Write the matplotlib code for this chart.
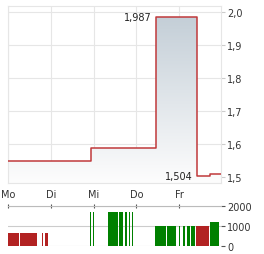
import matplotlib.pyplot as plt
import numpy as np
from matplotlib.colors import LinearSegmentedColormap
from matplotlib.ticker import FuncFormatter

days = ["Mo", "Di", "Mi", "Do", "Fr"]

# price steps, time in trading days from Monday
price_t = [0.0, 1.934, 3.455, 4.414, 4.725, 4.98]
price = [1.550, 1.589, 1.987, 1.504, 1.509, 1.509]

# volume bars: start / end time (days), volume, up (green) or down (red)
vol_start = [0.000, 0.281, 0.788, 0.865,
             1.911, 1.988,
             2.339, 2.596, 2.730, 2.830, 2.894,
             3.446, 3.726, 3.993, 4.101, 4.194, 4.288,
             4.391, 4.718]
vol_end = [0.257, 0.671, 0.819, 0.943,
           1.942, 2.012,
           2.566, 2.683, 2.791, 2.861, 2.924,
           3.696, 3.930, 4.016, 4.140, 4.257, 4.381,
           4.709, 4.936]
vol = [660, 660, 660, 660,
       1725, 1725,
       1725, 1725, 1725, 1725, 1725,
       1020, 1020, 1020, 1020, 1020, 1020,
       1020, 1230]
vol_up = [False, False, False, False,
          True, True,
          True, True, True, True, True,
          True, True, True, True, True, True,
          False, True]

txt = "#333333"
grid = "#e6e6e6"
xmax = price_t[-1]
ymin, ymax = 1.481, 2.019

fig = plt.figure(figsize=(2.64, 2.55), dpi=100)
ax = fig.add_axes([0.0303, 0.2773, 0.8068, 0.6953])
ax2 = fig.add_axes([0.0303, 0.0314, 0.8068, 0.1557])

# gradient area under the price line
fill = ax.fill_between(price_t, price, ymin, step="post", facecolor="none", linewidth=0)
cmap = LinearSegmentedColormap.from_list("g", ["#fdfdfd", "#c2cdd6"])
grad = np.linspace(0, 1, 256).reshape(-1, 1)
im = ax.imshow(grad, cmap=cmap, origin="lower", aspect="auto",
               extent=[0, xmax, ymin, 2.0], zorder=1)
im.set_clip_path(fill.get_paths()[0], ax.transData)

ax.plot(price_t, price, drawstyle="steps-post", color="#c0393b", lw=1.1, zorder=3)

ax.set_xlim(0, xmax)
ax.set_ylim(ymin, ymax)
ax.set_xticks(range(len(days)))
ax.set_xticklabels(days)
ax.set_yticks([1.5, 1.6, 1.7, 1.8, 1.9, 2.0])
ax.yaxis.set_major_formatter(FuncFormatter(lambda v, p: f"{v:.1f}".replace(".", ",")))
ax.yaxis.tick_right()
ax.tick_params(axis="x", length=0, labelsize=7, labelcolor=txt, pad=4)
ax.tick_params(axis="y", length=3, color="#cccccc", labelsize=7, labelcolor=txt, pad=1.5)
ax.grid(True, color=grid, lw=0.8)
ax.set_axisbelow(True)
for s in ax.spines.values():
    s.set_color(grid)
    s.set_linewidth(0.8)

# max / min labels
i_max = int(np.argmax(price))
i_min = int(np.argmin(price))
for i in (i_max, i_min):
    ax.annotate(f"{price[i]:.3f}".replace(".", ","), xy=(price_t[i], price[i]),
                xytext=(-3, 0), textcoords="offset points", ha="right", va="center",
                fontsize=7, color="#222222")

# volume
colors = ["#008000" if u else "#b22222" for u in vol_up]
ax2.bar(vol_start, vol, width=np.subtract(vol_end, vol_start), align="edge",
        color=colors, linewidth=0, zorder=2)
ax2.set_xlim(0, xmax)
ax2.set_ylim(0, 2000)
ax2.set_yticks([0, 1000, 2000])
ax2.yaxis.tick_right()
ax2.tick_params(axis="y", length=3, color="#555555", labelsize=7, labelcolor=txt, pad=1.5)
ax2.xaxis.tick_top()
ax2.set_xticks(range(len(days)))
ax2.tick_params(axis="x", length=3, direction="inout", color="#555555", labeltop=False)
ax2.yaxis.grid(True, color="#cccccc", lw=0.8)
ax2.set_axisbelow(True)
for k in ["left", "right", "bottom"]:
    ax2.spines[k].set_visible(False)
ax2.spines["top"].set_color("#bbbbbb")
ax2.spines["top"].set_linewidth(0.8)

fig.savefig("out.png", dpi=100)
